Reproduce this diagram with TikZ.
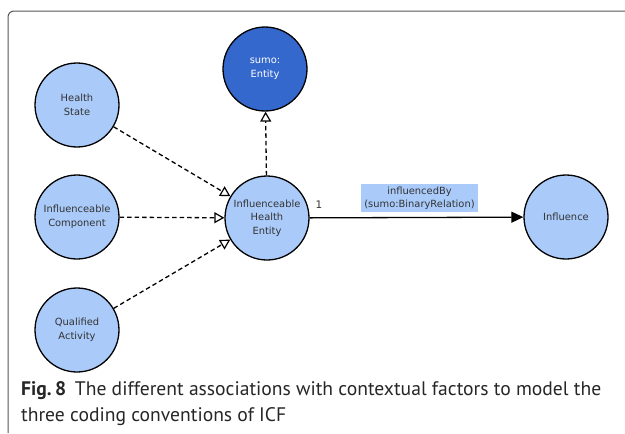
\documentclass[tikz,border=0pt]{standalone}
\usepackage{fontspec}
\setmainfont{PT Sans}
\newfontfamily\diagfont{DejaVu Sans}
\usetikzlibrary{arrows.meta}
\definecolor{classfill}{HTML}{AACBFA}
\definecolor{supfill}{HTML}{3568CC}
\definecolor{framegray}{HTML}{555555}
\begin{document}
\begin{tikzpicture}[x=1pt,y=-1pt,
  cls/.style={circle, draw=black, line width=1.3pt, fill=classfill,
    minimum size=84pt, inner sep=0pt, align=center,
    font=\diagfont\fontsize{9.9}{13.5}\selectfont, text=black!80},
  supcls/.style={cls, fill=supfill, text=white},
  isa/.style={dash pattern=on 4.5pt off 3pt, line width=1.3pt,
    -{Triangle[open, length=10pt, width=11pt, line width=1.2pt]}},
  assoc/.style={line width=1.3pt, -{Triangle[length=12pt, width=11pt]}},
  lbl/.style={fill=classfill, inner xsep=3pt, inner ysep=2pt, align=center,
    font=\diagfont\fontsize{9.9}{13}\selectfont, text=black!80,
    minimum width=117pt, minimum height=28pt}]
\useasboundingbox (0,0) rectangle (625,434);
% panel frame
\draw[framegray, line width=1pt, rounded corners=6pt] (8,433) -- (8,11) -- (626,11);

% classes
\node[supcls] (sumo) at (265,69) {sumo:\\Entity};
\node[cls] (hs)  at (77,105) {Health\\State};
\node[cls] (ic)  at (77,217) {Influenceable\\Component};
\node[cls] (qa)  at (77,330) {Qualified\\Activity};
\node[cls] (ihe) at (267,218) {Influenceable\\Health\\Entity};
\node[cls] (inf) at (566,217) {Influence};

% subclass links
\draw[isa] (hs) -- (ihe);
\draw[isa] (ic) -- (ihe);
\draw[isa] (qa) -- (ihe);
\draw[isa] (ihe) -- (sumo);

% association
\draw[assoc] (ihe) -- (inf);
\node[lbl] (rel) at (419.5,198) {influencedBy\\(sumo:BinaryRelation)};
\node[font=\diagfont\fontsize{10.4}{12}\selectfont, text=black!80] (mult) at (319,205) {1};

% caption
\node[anchor=base west, inner sep=0pt, font=\fontsize{19.6}{26}\selectfont, text=black!85] (cap1) at (21,395)
  {\textbf{Fig.\,8}\hspace{0.45em}The different associations with contextual factors to model the};
\node[anchor=base west, inner sep=0pt, font=\fontsize{19.6}{26}\selectfont, text=black!85] (cap2) at (21,421)
  {three coding conventions of ICF};
\end{tikzpicture}
\end{document}
